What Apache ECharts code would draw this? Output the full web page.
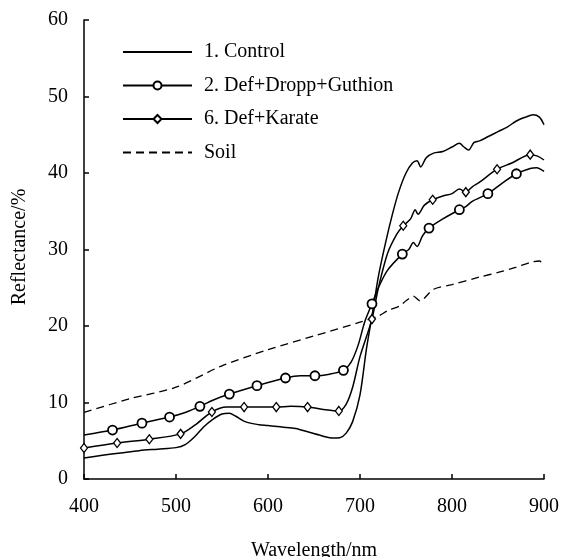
<!DOCTYPE html>
<html>
<head>
<meta charset="utf-8">
<script src="https://cdn.jsdelivr.net/npm/echarts@6/dist/echarts.min.js"></script>
<style>html,body{margin:0;padding:0;background:#fff}#c{width:561px;height:557px}</style>
</head>
<body>
<div id="c"></div>
<script>
// ---- data ----
var seriesNames = ['1. Control', '2. Def+Dropp+Guthion', '6. Def+Karate', 'Soil'];
var xTicks = [400, 500, 600, 700, 800, 900];
var yTicks = [0, 10, 20, 30, 40, 50, 60];

// 1. Control (no markers)
var controlX = [400,420,440,460,480,500,510,520,530,540,550,558,565,575,590,600,615,630,645,660,670,678,685,692,700,707,714,720,728,735,742,750,757,762,766,772,780,790,800,808,813,818,824,830,840,850,860,870,880,888,895,900];
var controlY = [2.75,3.1,3.4,3.7,3.9,4.1,4.5,5.5,6.8,7.8,8.5,8.6,8.2,7.5,7.1,7.0,6.8,6.6,6.1,5.6,5.35,5.4,6.0,7.5,11,17,22,26.5,31,34.5,37.5,40,41.3,41.6,40.8,42,42.6,42.8,43.4,43.9,43.4,43.0,44,44.2,44.8,45.4,46,46.8,47.3,47.6,47.3,46.3];

// 2. Def+Dropp+Guthion: line points and circle markers
var droppX = [400,510,540,635,667,690,698,705,720,730,753,758,762,768,790,815,822,855,885,892,900];
var droppY = [5.75,8.7,10.3,13.5,13.7,15.2,17.5,20.5,25,27.3,30,30.9,30.4,31.8,34,35.6,36.3,38.7,40.6,40.7,40.2];
var droppMarkX = [431,463,493,526,558,588,619,651,682,713,746,775,808,839,870];
var droppMarkY = [6.4,7.3,8.1,9.5,11.1,12.2,13.2,13.5,14.2,22.9,29.4,32.8,35.2,37.3,39.9];

// 6. Def+Karate: line points and diamond markers
var karateX = [520,555,590,625,660,685,692,700,720,730,740,755,760,763,770,790,800,808,822,830,865,893,900];
var karateY = [7.0,9.4,9.4,9.5,9.1,9.8,12,16,25,29.5,32,34,35.2,34.6,35.8,37,37.3,37.9,38.2,38.8,41.3,42.2,41.7];
var karateMarkX = [400,436,471,505,539,574,609,643,677,713,747,779,815,849,885];
var karateMarkY = [4.05,4.7,5.2,5.9,8.76,9.4,9.4,9.4,8.9,20.9,33.1,36.5,37.5,40.5,42.4];

// Soil (dashed)
var soilX = [400,450,500,550,600,650,700,720,730,743,750,758,765,780,800,830,850,870,885,895,900];
var soilY = [8.7,10.5,12.0,14.8,16.9,18.7,20.5,21.3,22.0,22.6,23.3,23.9,23.3,24.8,25.4,26.4,27.0,27.7,28.3,28.5,27.8];

// ---- build ----
function build(lx, ly, mx, my) {
  var pts = [];
  for (var i = 0; i < lx.length; i++) pts.push({value: [lx[i], ly[i]], symbol: 'none'});
  if (mx) for (var j = 0; j < mx.length; j++) pts.push({value: [mx[j], my[j]]});
  pts.sort(function (a, b) { return a.value[0] - b.value[0]; });
  return pts;
}
var FONT = '"Liberation Serif", "Times New Roman", serif';
var chart = echarts.init(document.getElementById('c'), null, {renderer: 'canvas'});
var common = {type: 'line', smooth: 0.3, showAllSymbol: true, animation: false, z: 3};
var hidden = {color: 'rgba(0,0,0,0)', borderColor: 'rgba(0,0,0,0)', borderWidth: 0};
chart.setOption({
  backgroundColor: '#fff',
  animation: false,
  grid: {left: 84, right: 17, top: 20, bottom: 78, containLabel: false, outerBoundsMode: 'none'},
  legend: {
    orient: 'vertical', left: 122, top: 42, padding: 0,
    itemWidth: 69, itemHeight: 10, itemGap: 13.5,
    textStyle: {fontFamily: FONT, fontSize: 20, color: '#000', lineHeight: 20, padding: [0, 0, 0, 7]},
    data: seriesNames
  },
  xAxis: {
    type: 'value', min: 400, max: 900, interval: 100,
    axisLine: {show: true, lineStyle: {color: '#000', width: 1.5}},
    axisTick: {show: true, inside: true, length: 5, lineStyle: {color: '#000', width: 1.5}},
    axisLabel: {fontFamily: FONT, fontSize: 20, color: '#000', margin: 18,
      formatter: function (v) { return xTicks.indexOf(v) >= 0 ? String(v) : ''; }},
    splitLine: {show: false},
    name: 'Wavelength/nm', nameLocation: 'middle', nameGap: 62,
    nameTextStyle: {fontFamily: FONT, fontSize: 20, color: '#000'}
  },
  yAxis: {
    type: 'value', min: 0, max: 60, interval: 10,
    axisLine: {show: true, lineStyle: {color: '#000', width: 1.5}},
    axisTick: {show: true, inside: true, length: 5, lineStyle: {color: '#000', width: 1.5}},
    axisLabel: {fontFamily: FONT, fontSize: 20, color: '#000', margin: 16,
      formatter: function (v) { return yTicks.indexOf(v) >= 0 ? String(v) : ''; }},
    splitLine: {show: false}
  },
  graphic: [{
    type: 'text', x: 20, y: 247, rotation: Math.PI / 2,
    style: {text: 'Reflectance/%', font: '20px ' + FONT, fill: '#000', textAlign: 'center', textVerticalAlign: 'middle'}
  }],
  series: [
    Object.assign({}, common, {
      name: seriesNames[0], symbol: 'rect', showSymbol: false,
      lineStyle: {color: '#000', width: 1.5}, itemStyle: hidden,
      data: build(controlX, controlY)
    }),
    Object.assign({}, common, {
      name: seriesNames[1], symbol: 'circle', symbolSize: 9,
      lineStyle: {color: '#000', width: 1.5},
      itemStyle: {color: '#fff', borderColor: '#000', borderWidth: 1.8},
      data: build(droppX, droppY, droppMarkX, droppMarkY)
    }),
    Object.assign({}, common, {
      name: seriesNames[2], symbol: 'diamond', symbolSize: [7, 9],
      lineStyle: {color: '#000', width: 1.5},
      itemStyle: {color: '#fff', borderColor: '#000', borderWidth: 1.3},
      data: build(karateX, karateY, karateMarkX, karateMarkY)
    }),
    Object.assign({}, common, {
      name: seriesNames[3], symbol: 'rect', showSymbol: false,
      lineStyle: {color: '#000', width: 1.3, type: [8, 5]}, itemStyle: hidden,
      data: build(soilX, soilY)
    })
  ]
});
</script>
</body>
</html>
